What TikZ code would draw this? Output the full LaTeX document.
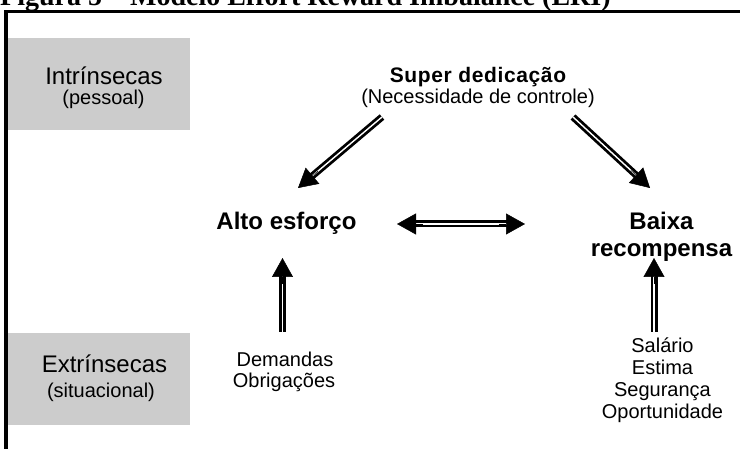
\documentclass[tikz,border=0pt]{standalone}
\usepackage{fontspec}
\setmainfont{Liberation Serif}
\newfontfamily\hv{Liberation Sans}
\usetikzlibrary{arrows.meta,calc}
\definecolor{boxgray}{RGB}{204,204,204}
\tikzset{
  titletext/.style={font=\bfseries\fontsize{28}{30}\selectfont, anchor=base west, inner sep=0pt},
  frameline/.style={line width=3.8pt, draw=black},
  gbox/.style={fill=boxgray, draw=none, minimum width=182pt, minimum height=92pt, inner sep=0pt},
  biglbl/.style={font=\hv\fontsize{24}{27}\selectfont, anchor=base, inner sep=0pt},
  boldlbl/.style={font=\hv\bfseries\fontsize{24}{27}\selectfont, anchor=base, inner sep=0pt},
  supl/.style={font=\hv\bfseries\fontsize{21}{24}\selectfont\addfontfeature{LetterSpace=3}, anchor=base, inner sep=0pt},
  smalllbl/.style={font=\hv\fontsize{20}{22}\selectfont, anchor=base, inner sep=0pt},
  shaft/.style={draw=black, double=white, line width=2.8pt, double distance=1.4pt},
  headtip/.style={draw=black, line width=0.5pt, -{Triangle[length=19pt,width=21pt]}},
}
\newcommand\headto[2]{\draw[headtip] ($(#2)!26pt!(#1)$) -- (#2);}
\begin{document}
\begin{tikzpicture}[x=1pt,y=-1pt]
\useasboundingbox (0,0) rectangle (740,449);
% caption (cut at the top)
\node[titletext] (title) at (0,6) {Figura 5 – Modelo Effort Reward Imbalance (ERI)};
% frame
\draw[frameline] (740,11.5) -| (6,449);
% grey boxes
\node[gbox] (intrbox) at (99,84) {};
\node[gbox] (extrbox) at (99,379) {};
\node[biglbl] (intr) at (104,85) {Intrínsecas};
\node[smalllbl] (pess) at (103.5,105) {(pessoal)};
\node[biglbl] (extr) at (104.5,373) {Extrínsecas};
\node[smalllbl] (situ) at (101,398) {(situacional)};
% top
\node[supl] (sup) at (478,83) {Super dedicação};
\node[smalllbl] (nec) at (478,104) {(Necessidade de controle)};
% middle
\node[boldlbl] (alto) at (286.5,230) {Alto esforço};
\node[boldlbl] (baixa) at (661.5,230) {Baixa};
\node[boldlbl] (recomp) at (661.5,257) {recompensa};
% bottom
\node[smalllbl] (dem) at (285,367) {Demandas};
\node[smalllbl] (obr) at (284,388) {Obrigações};
\node[smalllbl] (sal) at (662.5,353) {Salário};
\node[smalllbl] (est) at (662.5,375) {Estima};
\node[smalllbl] (seg) at (662.5,397) {Segurança};
\node[smalllbl] (opo) at (662.5,418) {Oportunidade};
% arrow end points
\coordinate (a1s) at (382,117);
\coordinate (a1t) at (298,188);
\coordinate (a2s) at (573,117);
\coordinate (a2t) at (650,188);
\coordinate (a3l) at (397,224);
\coordinate (a3r) at (525,224);
\coordinate (a4s) at (282.5,332);
\coordinate (a4t) at (282.5,258);
\coordinate (a5s) at (654,332);
\coordinate (a5t) at (654,258);
% arrows
\draw[shaft] (a1s) -- ($(a1t)!16pt!(a1s)$); \headto{a1s}{a1t}
\draw[shaft] (a2s) -- ($(a2t)!16pt!(a2s)$); \headto{a2s}{a2t}
\draw[shaft] ($(a3l)!16pt!(a3r)$) -- ($(a3r)!16pt!(a3l)$); \headto{a3l}{a3r} \headto{a3r}{a3l}
\draw[shaft] (a4s) -- ($(a4t)!16pt!(a4s)$); \headto{a4s}{a4t}
\draw[shaft] (a5s) -- ($(a5t)!16pt!(a5s)$); \headto{a5s}{a5t}
\end{tikzpicture}
\end{document}
